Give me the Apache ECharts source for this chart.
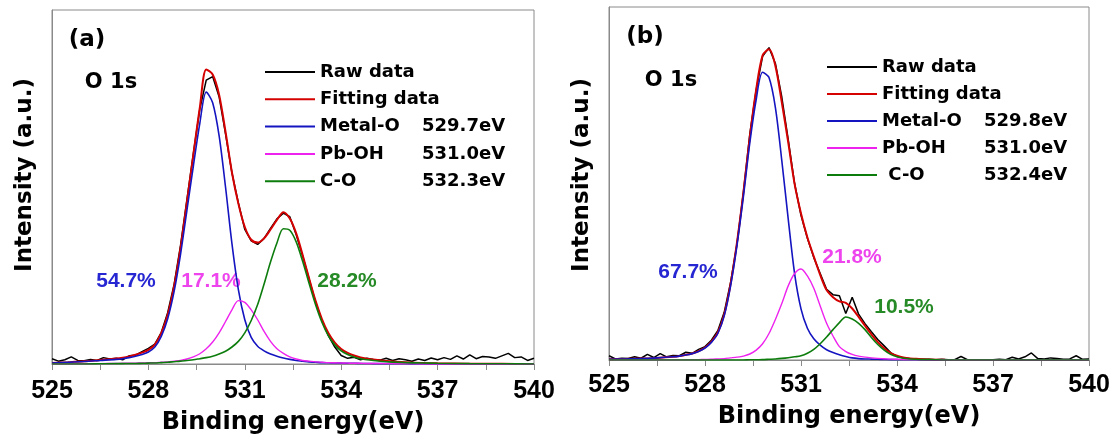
<!DOCTYPE html>
<html>
<head>
<meta charset="utf-8">
<script src="https://cdn.jsdelivr.net/npm/echarts@6/dist/echarts.min.js"></script>
<style>
  html, body { margin: 0; padding: 0; background: #fff; }
  #chart { width: 1118px; height: 442px; }
</style>
</head>
<body>
<div id="chart"></div>
<script>
// ---------- DATA ----------
const seriesNames = ['Raw data', 'Fitting data', 'Metal-O', 'Pb-OH', 'C-O'];
const legendLabelsA = ['Raw data', 'Fitting data', 'Metal-O', 'Pb-OH', 'C-O'];
const legendLabelsB = ['Raw data', 'Fitting data', 'Metal-O', 'Pb-OH', ' C-O'];
const peakEnergyA = ['', '', '529.7eV', '531.0eV', '532.3eV'];
const peakEnergyB = ['', '', '529.8eV', '531.0eV', '532.4eV'];
const percentA = ['54.7%', '17.1%', '28.2%'];
const percentB = ['67.7%', '21.8%', '10.5%'];
const panelTags = ['(a)', '(b)'];
const coreLevel = 'O 1s';
const xAxisTitle = 'Binding energy(eV)';
const yAxisTitle = 'Intensity (a.u.)';
const xMin = 525, xMax = 540, xStep = 3;

// energy grid of the fitted curves (eV)
const energy = [
  525, 525.5, 526, 526.5, 527, 527.2, 527.4, 527.6, 527.8, 528,
  528.2, 528.4, 528.6, 528.8, 529, 529.2, 529.4, 529.6, 529.8, 530,
  530.2, 530.4, 530.6, 530.8, 531, 531.2, 531.4, 531.6, 531.8, 532,
  532.2, 532.4, 532.6, 532.8, 533, 533.2, 533.4, 533.6, 533.8, 534,
  534.2, 534.4, 534.6, 534.8, 535, 535.5, 536, 536.5, 537, 538,
  539, 540
];
// energy grid of the raw spectra (eV)
const rawEnergy = [
  525.0, 525.2, 525.4, 525.6, 525.8, 526.0, 526.2, 526.4, 526.6, 526.8,
  527.0, 527.2, 527.4, 527.6, 527.8, 528.0, 528.2, 528.4, 528.6, 528.8,
  529.0, 529.2, 529.4, 529.6, 529.8, 530.0, 530.2, 530.4, 530.6, 530.8,
  531.0, 531.2, 531.4, 531.6, 531.8, 532.0, 532.2, 532.4, 532.6, 532.8,
  533.0, 533.2, 533.4, 533.6, 533.8, 534.0, 534.2, 534.4, 534.6, 534.8,
  535.0, 535.2, 535.4, 535.6, 535.8, 536.0, 536.2, 536.4, 536.6, 536.8,
  537.0, 537.2, 537.4, 537.6, 537.8, 538.0, 538.2, 538.4, 538.6, 538.8,
  539.0, 539.2, 539.4, 539.6, 539.8, 540.0
];

// ----- panel (a) -----
const rawA = [
  1.5, 0.8, 1.2, 2.0, 1.0, 0.9, 1.3, 1.0, 1.8, 1.4,
  1.6, 1.2, 2.3, 2.5, 3.5, 4.4, 5.6, 8.9, 14.5, 22.5,
  33.5, 46.5, 59.5, 72.0, 80.2, 81.2, 75.5, 65.0, 54.0, 45.5,
  38.0, 34.8, 33.8, 35.5, 38.3, 41.0, 42.6, 41.6, 36.5, 30.5,
  24.0, 17.5, 12.2, 8.0, 4.8, 2.4, 1.6, 1.9, 1.2, 1.6,
  1.3, 1.1, 1.6, 1.0, 1.5, 1.2, 0.8, 1.4, 1.0, 1.7,
  1.2, 1.8, 1.3, 2.3, 1.4, 2.6, 1.5, 2.1, 2.0, 1.6,
  2.3, 3.0, 1.8, 2.0, 1.0, 1.6
];
const fitA = [
  0.3, 0.5, 0.75, 1.15, 1.55, 1.8, 2.15, 2.6, 3.2, 4.0,
  5.5, 8.7, 13.9, 22.0, 32.8, 45.9, 59.2, 72.4, 83.2, 81.8,
  76.1, 65.6, 54.1, 45.3, 38.7, 35.1, 34.3, 35.5, 38.0, 40.7,
  42.9, 41.1, 36.9, 30.8, 24.2, 17.9, 12.7, 8.75, 6.05, 4.25,
  3.15, 2.4, 1.85, 1.5, 1.25, 0.8, 0.5, 0.3, 0.2, 0.1,
  0.05, 0
];
const metalA = [
  0.3, 0.5, 0.7, 1.0, 1.3, 1.5, 1.8, 2.2, 2.7, 3.4,
  4.8, 7.8, 12.8, 20.5, 31, 43.5, 56, 68, 76.8, 73.8,
  64.5, 50, 34, 21, 12.5, 7.5, 5.0, 3.7, 2.8, 2.2,
  1.7, 1.3, 1.0, 0.8, 0.6, 0.5, 0.4, 0.35, 0.3, 0.25,
  0.2, 0.2, 0.15, 0.15, 0.1, 0.1, 0.05, 0, 0, 0,
  0, 0
];
const pbohA = [
  0, 0, 0.05, 0.1, 0.15, 0.2, 0.2, 0.25, 0.3, 0.35,
  0.4, 0.5, 0.6, 0.8, 1.0, 1.4, 2.0, 2.9, 4.3, 6.2,
  8.8, 12.0, 15.3, 17.9, 17.4, 15.3, 12.5, 9.2, 6.4, 4.3,
  3.0, 2.0, 1.4, 1.0, 0.8, 0.6, 0.5, 0.4, 0.35, 0.3,
  0.25, 0.2, 0.2, 0.15, 0.15, 0.1, 0.05, 0, 0, 0,
  0, 0
];
const coA = [
  0, 0, 0, 0.05, 0.1, 0.1, 0.15, 0.15, 0.2, 0.25,
  0.3, 0.4, 0.5, 0.65, 0.8, 1.0, 1.2, 1.5, 1.8, 2.2,
  2.8, 3.6, 4.8, 6.4, 8.8, 12.3, 16.8, 22.6, 28.8, 34.2,
  38.2, 37.8, 34.5, 29.0, 22.8, 16.8, 11.8, 8.0, 5.4, 3.7,
  2.7, 2.0, 1.5, 1.2, 1.0, 0.6, 0.4, 0.3, 0.2, 0.1,
  0.05, 0
];

// ----- panel (b) -----
const rawB = [
  1.2, 0.3, 0.5, 0.4, 0.9, 0.5, 1.6, 0.7, 1.8, 0.9,
  1.3, 1.2, 2.2, 1.9, 3.0, 3.8, 5.6, 8.3, 13.5, 22.0,
  33.0, 47.5, 64.0, 76.5, 86.0, 88.5, 84.0, 74.5, 62.5, 50.0,
  41.0, 34.5, 29.0, 24.5, 20.0, 18.5, 18.2, 13.2, 17.8, 13.0,
  10.3, 8.0, 5.8, 4.0, 2.1, 1.0, 0.6, 0.4, 0.3, 0.2,
  0.2, 0.1, 0.2, 0.1, 0.1, 1.0, 0.1, 0.1, 0.0, 0.1,
  0.1, 0.2, 0.1, 0.8, 0.3, 0.9, 2.0, 0.4, 0.3, 0.6,
  0.4, 0.2, 0.3, 1.2, 0.2, 0.3
];
const fitB = [
  0.2, 0.3, 0.4, 0.6, 0.9, 1.1, 1.45, 1.85, 2.5, 3.55,
  5.2, 7.8, 12.9, 21.6, 33.3, 47.4, 63.2, 76.6, 86.3, 88.0,
  83.3, 73.0, 61.7, 49.9, 41.5, 34.7, 29.3, 24.1, 19.8, 17.8,
  16.6, 16.2, 14.6, 12.2, 9.7, 7.25, 5.05, 3.3, 1.95, 1.2,
  0.7, 0.45, 0.35, 0.2, 0.15, 0.05, 0, 0, 0, 0,
  0, 0
];
const metalB = [
  0.2, 0.3, 0.4, 0.6, 0.9, 1.1, 1.4, 1.8, 2.4, 3.4,
  5.0, 7.5, 12.5, 21.0, 32.5, 46.3, 61.5, 73.8, 81.5, 80.0,
  71.5, 56.5, 40.0, 24.5, 14.5, 9.0, 6.0, 4.2, 2.9, 2.1,
  1.5, 1.0, 0.6, 0.4, 0.3, 0.25, 0.2, 0.15, 0.1, 0.1,
  0.05, 0.05, 0.05, 0, 0, 0, 0, 0, 0, 0,
  0, 0
];
const pbohB = [
  0, 0, 0, 0, 0, 0, 0.05, 0.05, 0.1, 0.15,
  0.2, 0.3, 0.4, 0.6, 0.8, 1.1, 1.7, 2.8, 4.6, 7.5,
  11.5, 16.0, 21.0, 24.5, 25.8, 23.8, 20.3, 15.3, 10.4, 6.8,
  3.8, 2.4, 1.6, 1.1, 0.8, 0.6, 0.45, 0.35, 0.25, 0.2,
  0.15, 0.1, 0.1, 0.05, 0.05, 0, 0, 0, 0, 0,
  0, 0
];
const coB = [
  0, 0, 0, 0, 0, 0, 0, 0, 0, 0,
  0, 0, 0, 0, 0, 0, 0.05, 0.05, 0.1, 0.2,
  0.3, 0.45, 0.65, 0.9, 1.2, 1.9, 3.0, 4.6, 6.5, 8.6,
  10.6, 12.2, 11.6, 10.4, 8.6, 6.4, 4.4, 2.8, 1.6, 0.9,
  0.5, 0.3, 0.2, 0.1, 0.1, 0, 0, 0, 0, 0,
  0, 0
];

// ---------- STYLE ----------
const lineColors = ['#000000', '#d50000', '#1414c0', '#ee22ee', '#0c7c0c'];
const lineWidths = [1.5, 2, 1.6, 1.4, 1.6];
const pctColors = ['#2626d2', '#ee44ee', '#268a26'];
const frameColor = '#8a8a8a';
const boldFont = '"DejaVu Sans", sans-serif';
const tickFont = '"Liberation Sans", Arial, sans-serif';

const grids = [
  { left: 52, top: 10, width: 482, height: 354 },
  { left: 609, top: 7, width: 480, height: 353 }
];

function pairs(xs, ys) { return xs.map((x, i) => [x, ys[i]]); }

const panels = [
  { raw: rawA, fit: fitA, metal: metalA, pboh: pbohA, co: coA },
  { raw: rawB, fit: fitB, metal: metalB, pboh: pbohB, co: coB }
];

const series = [];
panels.forEach((p, k) => {
  const datas = [
    pairs(rawEnergy, p.raw),
    pairs(energy, p.fit),
    pairs(energy, p.metal),
    pairs(energy, p.pboh),
    pairs(energy, p.co)
  ];
  datas.forEach((d, j) => {
    series.push({
      type: 'line', name: seriesNames[j], xAxisIndex: k, yAxisIndex: k,
      data: d, showSymbol: false, symbol: 'none',
      smooth: j === 0 ? false : 0.3,
      color: lineColors[j],
      lineStyle: { color: lineColors[j], width: lineWidths[j] },
      z: 2 + j, silent: true
    });
  });
});

function legendFor(labels, evs, left, top, gap) {
  const base = { fontFamily: boldFont, fontWeight: 'bold', fontSize: 18, color: '#000', lineHeight: 20 };
  const rich = { n: Object.assign({ width: 102 }, base), v: Object.assign({}, base) };
  return {
    orient: 'vertical', left: left, top: top, padding: 0,
    icon: 'rect', itemWidth: 50, itemHeight: 2, itemGap: gap,
    selectedMode: false,
    data: seriesNames,
    formatter: function (name) {
      const i = seriesNames.indexOf(name);
      return evs[i] ? '{n|' + labels[i] + '}{v|' + evs[i] + '}' : '{n|' + labels[i] + '}';
    },
    textStyle: Object.assign({ rich: rich }, base)
  };
}

const xAxisBase = {
  type: 'value', min: xMin, max: xMax, interval: xStep,
  axisLine: { show: true, lineStyle: { color: frameColor, width: 1 } },
  axisTick: { show: true, inside: false, length: 6, lineStyle: { color: frameColor } },
  minorTick: { show: true, splitNumber: 2, length: 6, lineStyle: { color: frameColor } },
  splitLine: { show: false },
  axisLabel: { fontFamily: tickFont, fontWeight: 'bold', fontSize: 25, color: '#000' },
  name: xAxisTitle, nameLocation: 'middle',
  nameTextStyle: { fontFamily: boldFont, fontWeight: 'bold', fontSize: 24, color: '#000' }
};
const yAxisBase = {
  type: 'value', min: 0, max: 100,
  axisLine: { show: true, lineStyle: { color: frameColor, width: 1 } },
  axisTick: { show: false }, axisLabel: { show: false }, splitLine: { show: false },
  name: yAxisTitle, nameLocation: 'middle', nameRotate: 90
};

const pctPos = [
  [[126, 281], [211, 281], [347, 281]],
  [[688, 272], [852, 257], [904, 307]]
];
const tagPos = [[87, 40], [645, 37]];
const corePos = [[111, 83], [671, 81]];

const graphic = [];
[percentA, percentB].forEach((arr, k) => {
  arr.forEach((t, i) => {
    graphic.push({ type: 'text', x: pctPos[k][i][0], y: pctPos[k][i][1], silent: true,
      style: { text: t, fill: pctColors[i], font: 'bold 21px ' + tickFont, align: 'center', verticalAlign: 'middle' } });
  });
  graphic.push({ type: 'text', x: tagPos[k][0], y: tagPos[k][1], silent: true,
    style: { text: panelTags[k], fill: '#000', font: 'bold 23px ' + boldFont, align: 'center', verticalAlign: 'middle' } });
  graphic.push({ type: 'text', x: corePos[k][0], y: corePos[k][1], silent: true,
    style: { text: coreLevel, fill: '#000', font: 'bold 21px ' + boldFont, align: 'center', verticalAlign: 'middle' } });
});

const yNameStyle = { fontFamily: boldFont, fontWeight: 'bold', fontSize: 23, color: '#000' };

const option = {
  animation: false,
  backgroundColor: '#ffffff',
  grid: grids.map(g => Object.assign({ show: true, borderColor: frameColor, borderWidth: 1, backgroundColor: 'transparent', containLabel: false }, g)),
  xAxis: [
    Object.assign({}, xAxisBase, { gridIndex: 0, nameGap: 47, axisLabel: Object.assign({ margin: 15 }, xAxisBase.axisLabel) }),
    Object.assign({}, xAxisBase, { gridIndex: 1, nameGap: 45, axisLabel: Object.assign({ margin: 13 }, xAxisBase.axisLabel) })
  ],
  yAxis: [
    Object.assign({}, yAxisBase, { gridIndex: 0, nameGap: 15, nameTextStyle: Object.assign({ padding: [0, 0, 0, 24] }, yNameStyle) }),
    Object.assign({}, yAxisBase, { gridIndex: 1, nameGap: 15, nameTextStyle: Object.assign({ padding: [0, 0, 0, 17] }, yNameStyle) })
  ],
  legend: [
    legendFor(legendLabelsA, peakEnergyA, 265, 62, 7.3),
    legendFor(legendLabelsB, peakEnergyB, 827, 57, 7.0)
  ],
  graphic: graphic,
  series: series
};

const chart = echarts.init(document.getElementById('chart'), null, { renderer: 'canvas' });
chart.setOption(option);
</script>
</body>
</html>
